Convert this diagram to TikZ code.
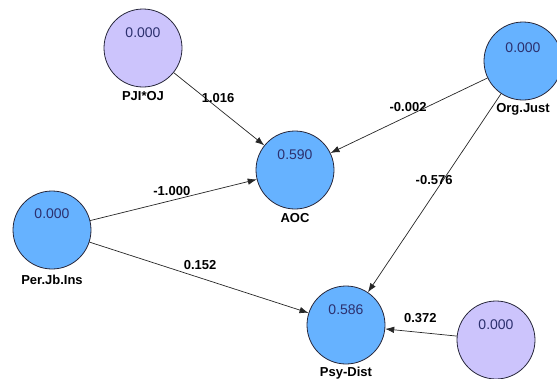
\documentclass[tikz,border=0pt]{standalone}
\usepackage{fontspec}
\setmainfont{Liberation Sans}
\usetikzlibrary{arrows.meta,positioning}

\definecolor{latblue}{RGB}{102,178,255}
\definecolor{latlilac}{RGB}{204,196,252}
\definecolor{valnavy}{RGB}{44,48,110}
\definecolor{rimgray}{RGB}{40,40,60}

\tikzset{
  latent/.style={circle, draw=rimgray, line width=0.8pt, fill=latblue, minimum size=78pt, inner sep=0pt},
  moderator/.style={latent, fill=latlilac},
  valtext/.style={font=\fontsize{14}{14}\selectfont, text=valnavy, inner sep=0pt},
  lvname/.style={font=\bfseries\fontsize{13}{13}\selectfont, inner sep=0pt},
  coef/.style={font=\bfseries\fontsize{13}{13}\selectfont, inner sep=1pt},
  path/.style={draw=black!85, line width=0.7pt, -{Latex[length=9pt,width=6.5pt]}}
}

\begin{document}
\begin{tikzpicture}[x=1pt, y=-1pt]
            \useasboundingbox (0,0) rectangle (557,378);
            \clip (0,0) rectangle (557,378);

            % Constructs
            \node[moderator] (pji) at (143, 48) {};
            \node[latent] (aoc) at (295, 170) {};
            \node[latent] (org) at (523, 61) {};
            \node[latent] (per) at (52, 230) {};
            \node[latent] (psy) at (346, 325) {};
            \node[moderator] (mod) at (496, 340) {};

            % R-square values
            \node[valtext] (pjiV) at ([yshift=15pt]pji.center) {0.000};
            \node[valtext] (aocV) at ([yshift=15pt]aoc.center) {0.590};
            \node[valtext] (orgV) at ([yshift=13pt]org.center) {0.000};
            \node[valtext] (perV) at ([yshift=16pt]per.center) {0.000};
            \node[valtext] (psyV) at ([yshift=15pt]psy.center) {0.586};
            \node[valtext] (modV) at ([yshift=15pt]mod.center) {0.000};

            % Names
            \node[lvname, below=4pt of pji] (pjiL) {PJI*OJ};
            \node[lvname, below=4pt of aoc] (aocL) {AOC};
            \node[lvname, below=3pt of org] (orgL) {Org.Just};
            \node[lvname, below=5pt of per] (perL) {Per.Jb.Ins};
            \node[lvname, below=2pt of psy] (psyL) {Psy-Dist};

            % Paths
            \draw[path] (pji) -- (aoc) node[coef, pos=0.49, above=4pt] (c1) {1.016};
            \draw[path] (org) -- (aoc) node[coef, pos=0.506, above=3pt] (c2) {-0.002};
            \draw[path] (org) -- (psy) node[coef, pos=0.435, xshift=-9pt] (c3) {-0.576};
            \draw[path] (per) -- (aoc) node[coef, pos=0.49, above=3pt] (c4) {-1.000};
            \draw[path] (per) -- (psy) node[coef, pos=0.505, above=7pt] (c5) {0.152};
            \draw[path] (mod) -- (psy) node[coef, pos=0.51, above=8pt] (c6) {0.372};
\end{tikzpicture}
\end{document}
